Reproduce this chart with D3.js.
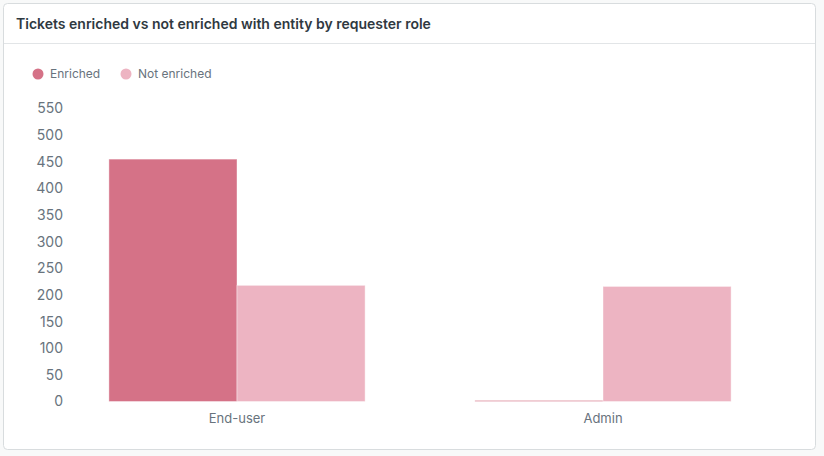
<!DOCTYPE html>
<html>
<head>
<meta charset="utf-8">
<script src="https://cdn.jsdelivr.net/npm/d3@7"></script>
<style>
  body { margin: 0; background: #f8f9f9; }
  svg { display: block; font-family: Inter, "Noto Sans", sans-serif; }
</style>
</head>
<body>
<div id="chart"></div>
<script>
// data
let roles = ["End-user", "Admin"];
let seriesKeys = ["Enriched", "Not enriched"];
let enriched = [455, 2];
let notEnriched = [218, 216];
let yTicks = [0, 50, 100, 150, 200, 250, 300, 350, 400, 450, 500, 550];
let colors = ["#d57287", "#edb4c2"];

function configuration(){
    let width = 824;
    let height = 456;
    let margin = { top: 108.5, bottom: 54.5, left: 54, right: 38 };
    let bodyHeight = height - margin.top - margin.bottom;
    let bodyWidth = width - margin.left - margin.right;
    let svg = d3.select("#chart")
                .append("svg")
                .attr("width", width)
                .attr("height", height);
    return { width, height, margin, bodyHeight, bodyWidth, svg };
}

function drawCard(config){
    let { svg } = config;
    svg.append("rect")
        .attr("x", 3.5).attr("y", 3.5)
        .attr("width", 812).attr("height", 446)
        .attr("rx", 4)
        .attr("fill", "#fff")
        .attr("stroke", "#d8dcde");
    svg.append("line")
        .attr("x1", 4).attr("x2", 815)
        .attr("y1", 43.5).attr("y2", 43.5)
        .attr("stroke", "#e2e5e7");
    svg.append("text")
        .attr("x", 16).attr("y", 29)
        .attr("fill", "#2f3941")
        .style("font-size", "14px")
        .style("font-weight", 600)
        .text("Tickets enriched vs not enriched with entity by requester role");
}

function legend(config){
    let { svg } = config;
    let xs = [38, 126];
    let lg = svg.append("g");
    lg.selectAll("circle")
        .data(seriesKeys)
        .enter()
        .append("circle")
        .attr("cx", (d, i) => xs[i])
        .attr("cy", 74)
        .attr("r", 5.5)
        .attr("fill", (d, i) => colors[i]);
    lg.selectAll("text")
        .data(seriesKeys)
        .enter()
        .append("text")
        .attr("x", (d, i) => xs[i] + 12)
        .attr("y", 74)
        .attr("dy", "0.35em")
        .attr("fill", "#68737d")
        .style("font-size", "12px")
        .text(d => d);
}

function drawBars(config){
    let { margin, bodyHeight, bodyWidth, svg } = config;
    let g = svg.append("g")
               .attr("transform", "translate(" + [margin.left, margin.top] + ")");

    let x0 = d3.scaleBand()
               .domain(roles)
               .range([0, bodyWidth])
               .paddingInner(0.3)
               .paddingOuter(0.15);
    let x1 = d3.scaleBand()
               .domain(seriesKeys)
               .range([0, x0.bandwidth()]);
    let y = d3.scaleLinear()
              .domain([0, 550])
              .range([bodyHeight, 0]);

    let yAxis = g.append("g")
                 .call(d3.axisLeft(y).tickValues(yTicks).tickSize(0).tickPadding(0));
    yAxis.select(".domain").remove();
    yAxis.selectAll("text")
         .attr("x", 9)
         .attr("fill", "#68737d")
         .style("font-family", "Inter, 'Noto Sans', sans-serif")
         .style("font-size", "14px");

    let xAxis = g.append("g")
                 .attr("transform", "translate(0," + bodyHeight + ")")
                 .call(d3.axisBottom(x0).tickSize(0).tickPadding(12));
    xAxis.select(".domain").remove();
    xAxis.selectAll("text")
         .attr("fill", "#68737d")
         .style("font-family", "Inter, 'Noto Sans', sans-serif")
         .style("font-size", "13px");

    let rows = roles.map((r, i) => ({ role: r, values: [enriched[i], notEnriched[i]] }));
    g.selectAll("g.group")
        .data(rows)
        .enter()
        .append("g")
        .attr("class", "group")
        .attr("transform", d => "translate(" + x0(d.role) + ",0)")
        .selectAll("rect")
        .data(d => d.values.map((v, i) => ({ key: seriesKeys[i], value: v, i })))
        .enter()
        .append("rect")
        .attr("x", d => x1(d.key))
        .attr("y", d => y(d.value))
        .attr("width", x1.bandwidth())
        .attr("height", d => bodyHeight - y(d.value))
        .attr("fill", d => colors[d.i])
        .attr("stroke", "#ffffff")
        .attr("stroke-opacity", 0.4)
        .attr("stroke-width", 1);
}

let config = configuration();
drawCard(config);
legend(config);
drawBars(config);
</script>
</body>
</html>
